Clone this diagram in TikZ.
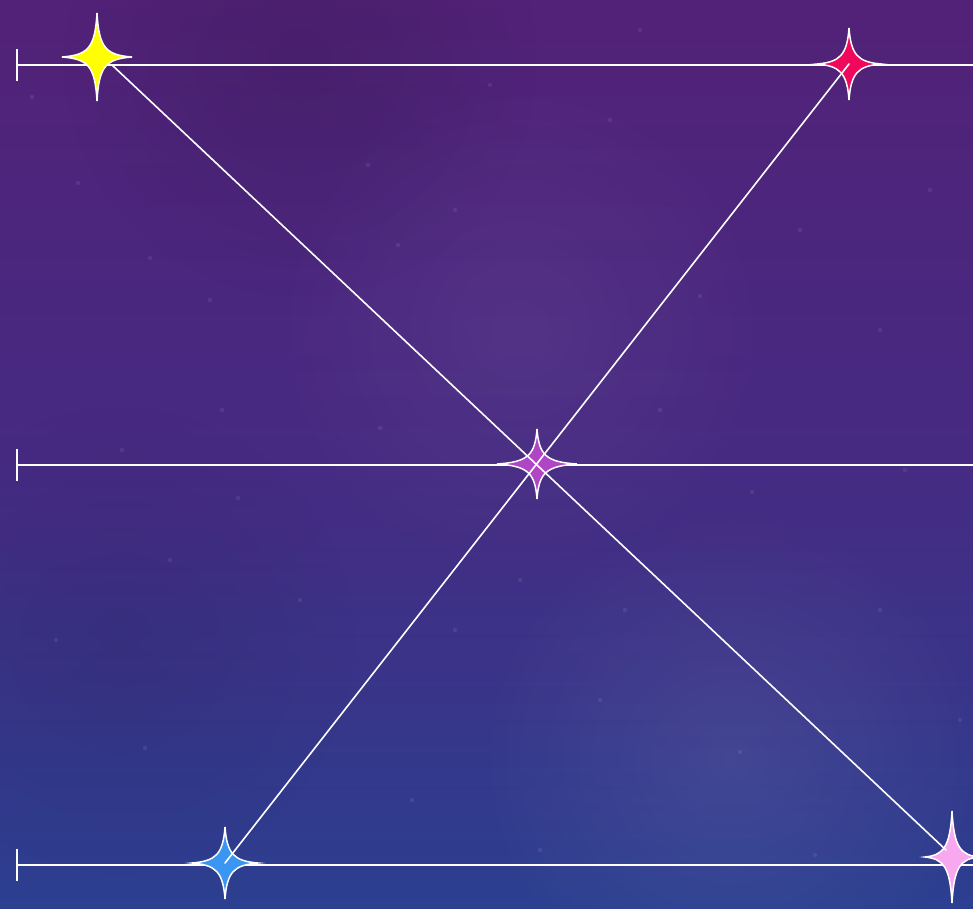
\documentclass[tikz,border=0pt]{standalone}
\usetikzlibrary{calc,fadings}
\definecolor{bgtop}{RGB}{90,28,112}
\definecolor{bgmid}{RGB}{70,42,130}
\definecolor{bgbot}{RGB}{32,72,150}
\definecolor{sYellow}{RGB}{255,255,0}
\definecolor{sRed}{RGB}{240,8,92}
\definecolor{sPurple}{RGB}{176,70,198}
\definecolor{sBlue}{RGB}{58,150,240}
\definecolor{sPink}{RGB}{248,168,238}
\pgfdeclareverticalshading{skybg}{100bp}{
  color(0bp)=(bgbot); color(25bp)=(bgbot!70!bgmid); color(50bp)=(bgmid); color(82bp)=(bgtop!75!bgmid); color(100bp)=(bgtop)}
\tikzfading[name=softglow, inner color=transparent!0, outer color=transparent!100]
\newcommand\sparkle[4]{%
  \begin{scope}[shift={(#1)}]
    \filldraw[fill=#4, draw=white, line width=1.5pt]
      (0,-#3) .. controls (2,-9) and (9,-2) .. (#2,0)
      .. controls (9,2) and (2,9) .. (0,#3)
      .. controls (-2,9) and (-9,2) .. (-#2,0)
      .. controls (-9,-2) and (-2,-9) .. cycle;
  \end{scope}}
\tikzset{
  rail/.style={white, line width=1.8pt},
  tick/.style={white, line width=1.8pt},
  diag/.style={white, line width=1.6pt, line cap=round},
  glow/.style={path fading=softglow},
}
\begin{document}
\begin{tikzpicture}[x=1pt,y=-1pt]
  \useasboundingbox (0,0) rectangle (973,908);
  \shade[shading=skybg] (0,0) rectangle (973,908);
  % soft glows
  \fill[white, opacity=0.07, glow] (730,760) circle (260);
  \fill[white, opacity=0.05, glow] (520,330) circle (260);
  \fill[black, opacity=0.10, glow] (300,60) circle (240);
  \fill[black, opacity=0.07, glow] (120,640) circle (240);
  % faint specks
  \foreach \px/\py in {32/97,78/183,150/258,210/300,398/245,368/165,455/210,490/85,640/30,610/120,700/296,800/230,880/330,930/190,122/450,238/498,222/410,380/428,660/410,752/492,905/470,880/610,455/630,625/610,300/600,145/748,412/800,540/850,740/752,815/855,56/640,600/700,960/720,170/560,520/580}
    \fill[white, opacity=0.08] (\px,\py) circle (2.2);
  % named points
  \coordinate (t1) at (17,65);  \coordinate (e1) at (973,65);
  \coordinate (t2) at (17,465); \coordinate (e2) at (973,465);
  \coordinate (t3) at (17,865); \coordinate (e3) at (973,865);
  \coordinate (Y) at (97,57);
  \coordinate (R) at (849,64);
  \coordinate (C) at (537,464);
  \coordinate (B) at (225,863);
  \coordinate (P) at (952,857);
  \coordinate (ds) at (112,65);
  \coordinate (de) at (946,850);
  % rails
  \foreach \i in {1,2,3}{
    \draw[rail] (t\i) -- (e\i);
    \draw[tick] ($(t\i)+(0,-16)$) -- ($(t\i)+(0,16)$);
  }
  % stars
  \sparkle{Y}{35}{44}{sYellow}
  \sparkle{R}{32}{36}{sRed}
  \sparkle{C}{40}{35}{sPurple}
  \sparkle{B}{33}{36}{sBlue}
  \sparkle{P}{27}{46}{sPink}
  % diagonals
  \draw[diag] (ds) -- (de);
  \draw[diag] (R) -- (B);
\end{tikzpicture}
\end{document}
